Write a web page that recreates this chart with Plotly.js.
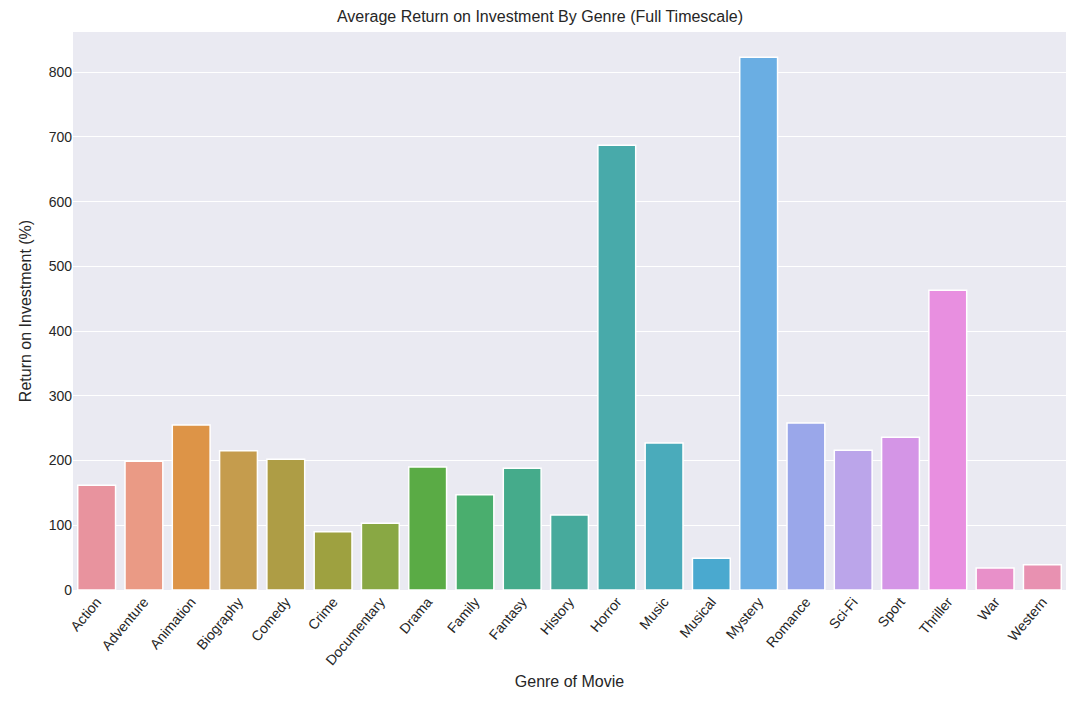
<!DOCTYPE html>
<html>
<head>
<script src="https://cdn.plot.ly/plotly-3.0.1.min.js"></script>
<style>body{margin:0;background:#fff}</style>
</head>
<body>
<div id="chart" style="width:1080px;height:720px"></div>
<script>
var genres = ['Action', 'Adventure', 'Animation', 'Biography', 'Comedy', 'Crime', 'Documentary', 'Drama', 'Family', 'Fantasy', 'History', 'Horror', 'Music', 'Musical', 'Mystery', 'Romance', 'Sci-Fi', 'Sport', 'Thriller', 'War', 'Western'];
var roi = [162, 199, 255, 215, 202, 90, 103, 190, 147, 188, 116, 687, 227, 49, 823, 258, 216, 236, 463, 34, 39];
var colors = ['#e8939e', '#ea9a85', '#dd9447', '#c59c4d', '#ae9d45', '#9ea140', '#89a844', '#5aab45', '#4aae6e', '#45ab8b', '#47aa9c', '#48aaaa', '#4aabbb', '#4aa9cf', '#6aaee3', '#9aa7ea', '#bba5ea', '#d495e6', '#e88fe0', '#e890c9', '#e891b1'];

var data = [{
  x: genres,
  y: roi,
  type: 'bar',
  marker: {color: colors, line: {color: '#ffffff', width: 1.5}},
  hoverinfo: 'x+y'
}];

var layout = {
  width: 1080, height: 720,
  margin: {l: 73, r: 14, t: 32, b: 130},
  paper_bgcolor: '#ffffff',
  plot_bgcolor: '#eaeaf2',
  font: {family: 'Liberation Sans, Arial, sans-serif', size: 14, color: '#262626'},
  title: {text: 'Average Return on Investment By Genre (Full Timescale)', x: 0.5, xanchor: 'center', y: 0.985, yanchor: 'top', font: {size: 16}},
  bargap: 0.2,
  showlegend: false,
  xaxis: {
    title: {text: 'Genre of Movie', font: {size: 16}, standoff: 8},
    tickangle: -50, showgrid: false, zeroline: false, ticks: '', ticklen: 4
  },
  yaxis: {
    title: {text: 'Return on Investment (%)', font: {size: 16}},
    range: [0, 862], dtick: 100, gridcolor: '#ffffff', gridwidth: 1.3,
    zeroline: false, ticks: ''
  }
};

Plotly.newPlot('chart', data, layout, {displayModeBar: false});
</script>
</body>
</html>
